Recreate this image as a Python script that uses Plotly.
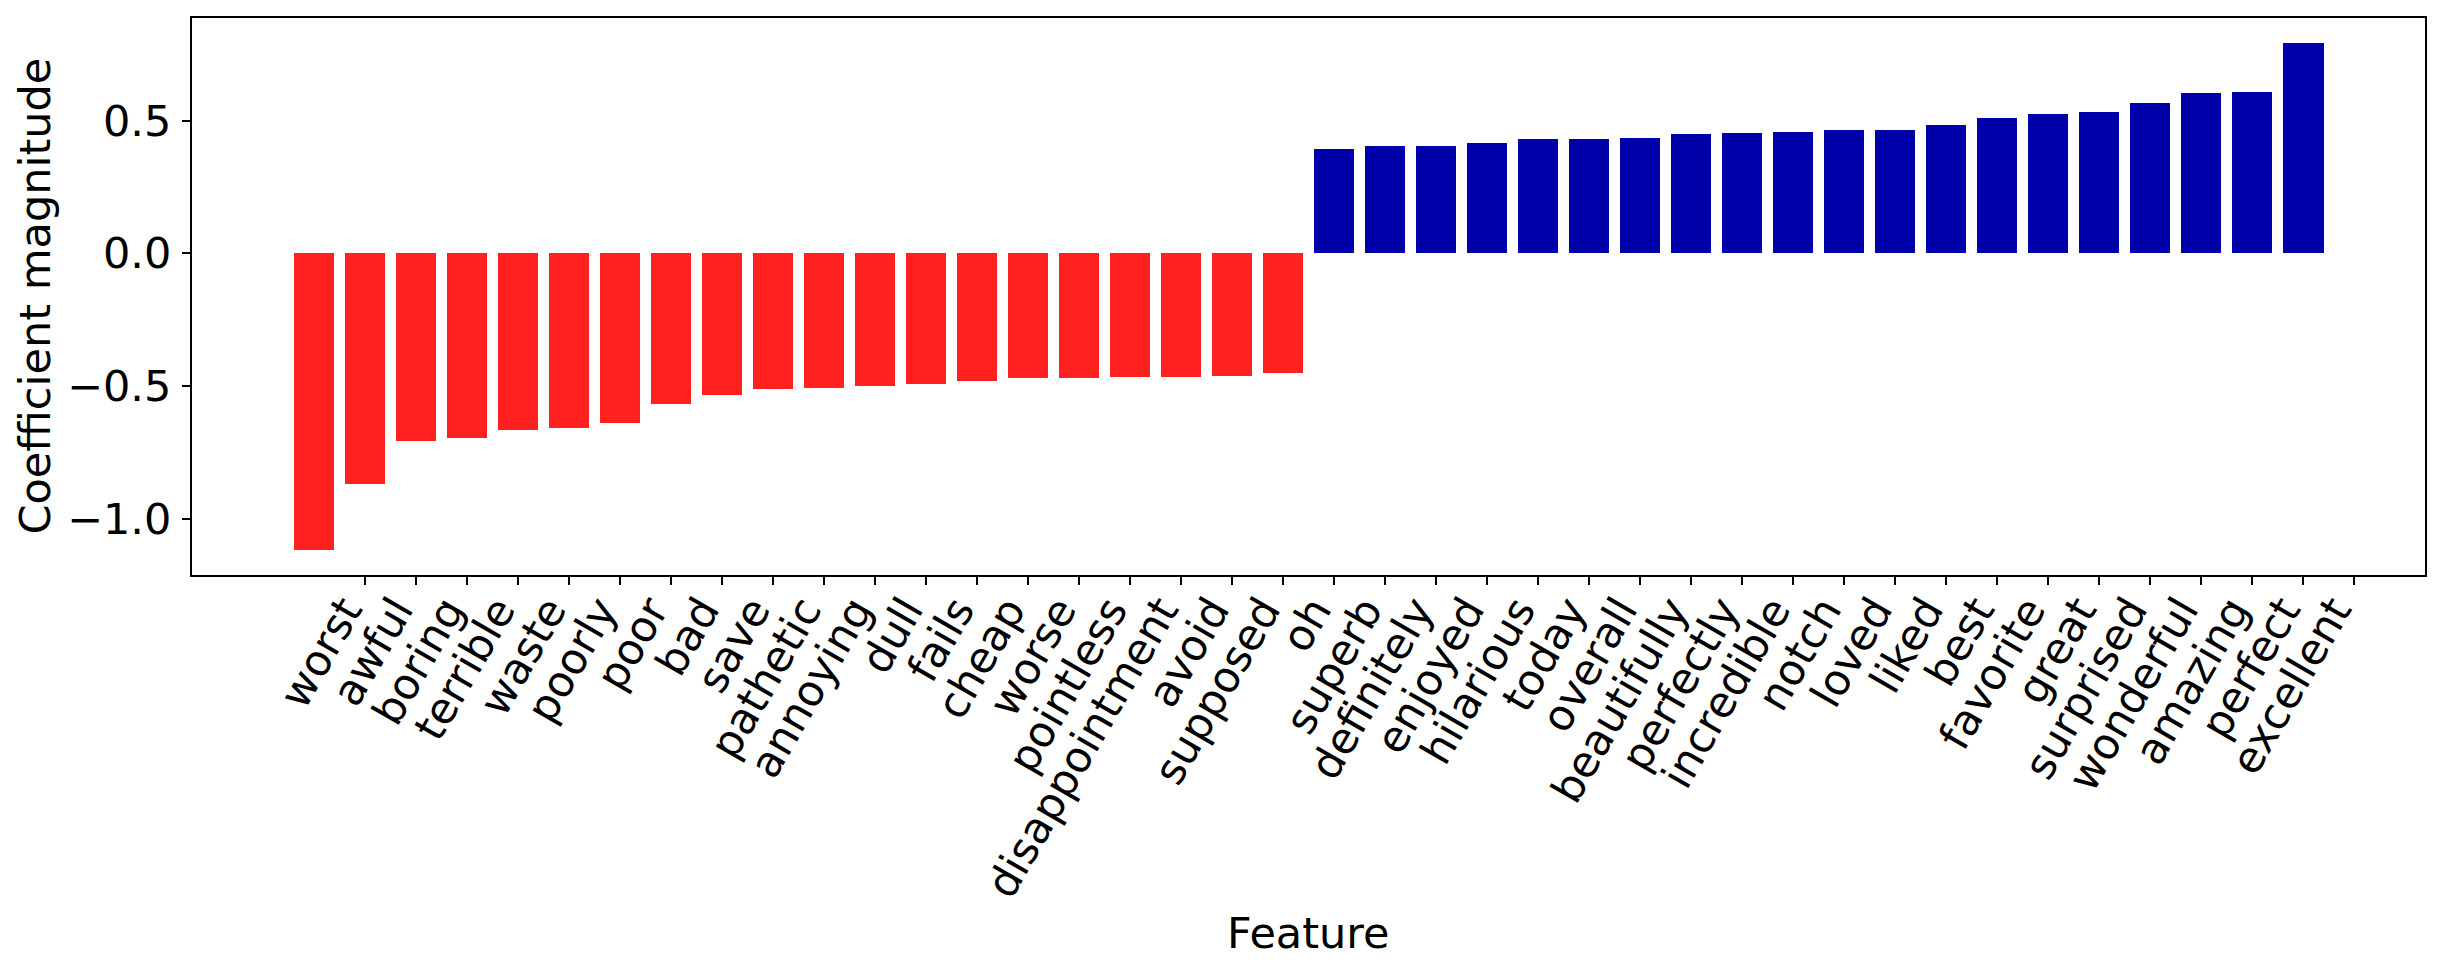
import numpy as np
import plotly.graph_objects as go

feature_names = ["worst", "awful", "boring", "terrible", "waste", "poorly", "poor", "bad",
                 "save", "pathetic", "annoying", "dull", "fails", "cheap", "worse",
                 "pointless", "disappointment", "avoid", "supposed", "oh",
                 "superb", "definitely", "enjoyed", "hilarious", "today", "overall",
                 "beautifully", "perfectly", "incredible", "notch", "loved", "liked",
                 "best", "favorite", "great", "surprised", "wonderful", "amazing",
                 "perfect", "excellent"]

negative_coefs = [-1.117, -0.871, -0.709, -0.698, -0.667, -0.657, -0.641, -0.569,
                  -0.536, -0.510, -0.506, -0.501, -0.494, -0.483, -0.471, -0.471,
                  -0.468, -0.468, -0.461, -0.452]
positive_coefs = [0.391, 0.403, 0.403, 0.417, 0.429, 0.429, 0.433, 0.448, 0.452,
                  0.455, 0.466, 0.466, 0.485, 0.508, 0.523, 0.534, 0.565, 0.602,
                  0.606, 0.791]

coefs = negative_coefs + positive_coefs
n = len(coefs)
bar_x = np.arange(n)
colors = ["#ff2020" if c < 0 else "#0000aa" for c in coefs]

FONT = "DejaVu Sans"
FS = 43
OFF = 8  # default body margin of the html page
PAGE_W, PAGE_H = 2445, 977
W, H = PAGE_W - OFF, PAGE_H - OFF
L = 192 - OFF
T = 18 - OFF
R = PAGE_W - 2425
B = PAGE_H - 575
PW = W - L - R
PH = H - T - B

fig = go.Figure()
fig.add_trace(go.Bar(x=bar_x, y=coefs, width=0.8, marker=dict(color=colors, line=dict(width=0)),
                     showlegend=False))

fig.update_layout(
    width=W, height=H,
    margin=dict(l=L, r=R, t=T, b=B, autoexpand=False),
    paper_bgcolor="white", plot_bgcolor="white",
    font=dict(family=FONT, size=FS, color="black"),
    bargap=0,
)
fig.update_xaxes(
    range=[-2.39, 41.39],
    tickmode="array", tickvals=np.arange(1, 1 + n), ticktext=feature_names,
    tickangle=-60, ticks="outside", ticklen=8, tickwidth=1.6, tickcolor="black",
    showline=True, linecolor="black", linewidth=2, mirror=True,
    showgrid=False, zeroline=False, tickfont=dict(size=FS, family=FONT),
    ticklabelstandoff=-17, ticklabelshift=-20,
)
fig.update_yaxes(
    range=[-1.2124, 0.8864],
    tickmode="array", tickvals=[-1.0, -0.5, 0.0, 0.5], tickformat=".1f",
    ticks="outside", ticklen=8, tickwidth=1.6, tickcolor="black",
    showline=True, linecolor="black", linewidth=2, mirror=True,
    showgrid=False, zeroline=False, tickfont=dict(size=FS, family=FONT),
    ticklabelstandoff=2,
)

feat_y_page = 933
fig.add_annotation(text="Feature", xref="paper", yref="paper",
                   x=0.5, y=-(feat_y_page - 575) / PH, xanchor="center", yanchor="middle",
                   showarrow=False, font=dict(size=FS, family=FONT))
ylab_x_page = 34
fig.add_annotation(text="Coefficient magnitude", xref="paper", yref="paper",
                   x=-(192 - ylab_x_page) / PW, y=0.5, xanchor="center", yanchor="middle",
                   textangle=-90, showarrow=False, font=dict(size=FS, family=FONT))

fig.write_html("out.html")
